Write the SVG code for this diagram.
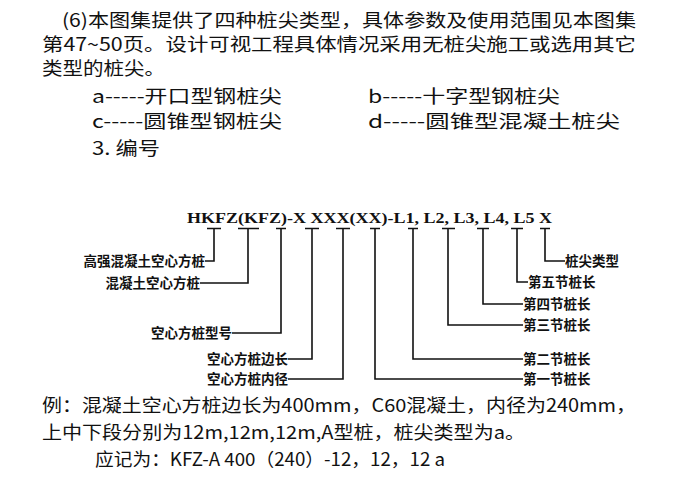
<svg xmlns="http://www.w3.org/2000/svg" width="678" height="495" viewBox="0 0 678 495">
<style>
.t{font-family:"Noto Sans CJK SC","Liberation Serif",serif;font-size:18px;fill:#111}
.s{font-family:"Noto Sans CJK SC","Liberation Serif",serif;font-size:13.5px;fill:#111;font-weight:bold}
.c{font-family:"Liberation Serif","Noto Sans CJK SC",serif;font-size:14px;fill:#111;font-weight:bold}
#connectors path{fill:none;stroke:#111;stroke-width:1.6}
</style>
<rect width="678" height="495" fill="#fff"/>
<text class="t" x="62" y="27" textLength="574" lengthAdjust="spacingAndGlyphs">(6)本图集提供了四种桩尖类型，具体参数及使用范围见本图集</text>
<text class="t" x="42" y="51" textLength="594" lengthAdjust="spacingAndGlyphs">第47~50页。设计可视工程具体情况采用无桩尖施工或选用其它</text>
<text class="t" x="42" y="75" textLength="123" lengthAdjust="spacingAndGlyphs">类型的桩尖。</text>
<text class="t" x="92" y="103" textLength="190" lengthAdjust="spacingAndGlyphs">a-----开口型钢桩尖</text>
<text class="t" x="368" y="103" textLength="192" lengthAdjust="spacingAndGlyphs">b-----十字型钢桩尖</text>
<text class="t" x="92" y="128" textLength="190" lengthAdjust="spacingAndGlyphs">c-----圆锥型钢桩尖</text>
<text class="t" x="368" y="128" textLength="252" lengthAdjust="spacingAndGlyphs">d-----圆锥型混凝土桩尖</text>
<text class="t" x="92" y="155" textLength="68" lengthAdjust="spacingAndGlyphs">3. 编号</text>
<text class="c" x="187" y="223" textLength="365" lengthAdjust="spacingAndGlyphs">HKFZ(KFZ)-X XXX(XX)-L1, L2, L3, L4, L5  X</text>
<g id="connectors">
<path d="M207 228.5H221M214 228.5V261H205"/>
<path d="M238 228.5H259M248 228.5V283H200"/>
<path d="M276 228.5H286M281 228.5V333H232"/>
<path d="M305 228.5H319M312 228.5V359H288"/>
<path d="M336 228.5H350M343 228.5V379H288"/>
<path d="M370 228.5H380M375 228.5V379H523"/>
<path d="M408 228.5H418M413 228.5V359H523"/>
<path d="M442 228.5H455M448 228.5V325H523"/>
<path d="M477 228.5H489M483 228.5V304H523"/>
<path d="M511 228.5H523M517 228.5V282H528"/>
<path d="M540 228.5H550M545 228.5V261H565"/>
</g>
<g id="left-labels">
<text class="s" x="205" y="266" text-anchor="end">高强混凝土空心方桩</text>
<text class="s" x="200" y="288" text-anchor="end">混凝土空心方桩</text>
<text class="s" x="232" y="338" text-anchor="end">空心方桩型号</text>
<text class="s" x="288" y="364" text-anchor="end">空心方桩边长</text>
<text class="s" x="288" y="384" text-anchor="end">空心方桩内径</text>
</g>
<g id="right-labels">
<text class="s" x="565" y="266">桩尖类型</text>
<text class="s" x="528" y="287">第五节桩长</text>
<text class="s" x="523" y="309">第四节桩长</text>
<text class="s" x="523" y="330">第三节桩长</text>
<text class="s" x="523" y="364">第二节桩长</text>
<text class="s" x="523" y="384">第一节桩长</text>
</g>
<text class="t" x="42" y="412" textLength="594" lengthAdjust="spacingAndGlyphs">例：混凝土空心方桩边长为400mm，C60混凝土，内径为240mm，</text>
<text class="t" x="42" y="439" textLength="483" lengthAdjust="spacingAndGlyphs">上中下段分别为12m,12m,12m,A型桩，桩尖类型为a。</text>
<text class="t" x="95" y="466" textLength="350" lengthAdjust="spacingAndGlyphs">应记为：KFZ-A 400（240）-12，12，12 a</text>
</svg>
